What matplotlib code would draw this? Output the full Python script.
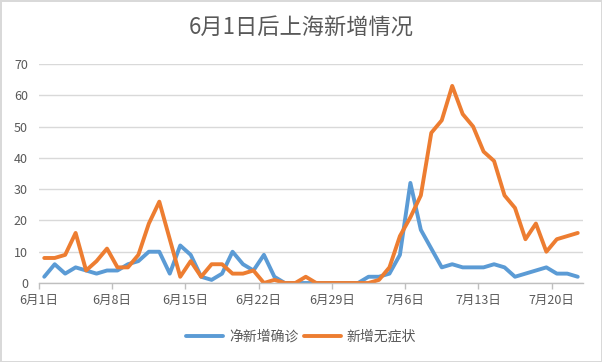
import matplotlib
matplotlib.use("Agg")
import matplotlib.pyplot as plt
import numpy as np

plt.rcParams['font.family'] = ['Noto Sans CJK SC', 'DejaVu Sans']

# 数据: 6月1日 ~ 7月22日, 每日一个点
days = ["6月%d日" % d for d in range(1, 31)] + ["7月%d日" % d for d in range(1, 23)]
confirmed = [2, 6, 3, 5, 4, 3, 4, 4, 6, 7,
             10, 10, 3, 12, 9, 2, 1, 3, 10, 6,
             4, 9, 2, 0, 0, 0, 0, 0, 0, 0,
             0, 2, 2, 3, 9, 32, 17, 11, 5, 6,
             5, 5, 5, 6, 5, 2, 3, 4, 5, 3,
             3, 2]
asymptomatic = [8, 8, 9, 16, 4, 7, 11, 5, 5, 9,
                19, 26, 14, 2, 7, 2, 6, 6, 3, 3,
                4, 0, 1, 0, 0, 2, 0, 0, 0, 0,
                0, 0, 1, 5, 15, 21, 28, 48, 52, 63,
                54, 50, 42, 39, 28, 24, 14, 19, 10, 14,
                15, 16]
tick_labels = ["6月1日", "6月8日", "6月15日", "6月22日", "6月29日", "7月6日", "7月13日", "7月20日"]
y_ticks = [0, 10, 20, 30, 40, 50, 60, 70]

blue = "#5B9BD5"
orange = "#ED7D31"
grey_text = "#595959"

fig = plt.figure(figsize=(6.02, 3.62), dpi=100)
fig.patch.set_facecolor("white")
fig.patch.set_edgecolor("#D9D9D9")
fig.patch.set_linewidth(1.0)
ax = fig.add_axes([0.0648, 0.2182, 0.9036, 0.605])

x = np.arange(len(days))
ax.plot(x, confirmed, color=blue, lw=2.8, solid_joinstyle="round", solid_capstyle="round", label="净新增确诊")
ax.plot(x, asymptomatic, color=orange, lw=2.8, solid_joinstyle="round", solid_capstyle="round", label="新增无症状")

ax.set_xlim(-0.5, len(days) - 0.5)
ax.set_ylim(0, 70)
ax.set_yticks(y_ticks)
ax.yaxis.grid(True, color="#D9D9D9", lw=1.0)
ax.set_axisbelow(True)

tick_pos = [days.index(t) - 0.5 for t in tick_labels]
ax.set_xticks(tick_pos)
ax.set_xticklabels(tick_labels)

for s in ["top", "right", "left"]:
    ax.spines[s].set_visible(False)
ax.spines["bottom"].set_color("#BFBFBF")
ax.spines["bottom"].set_linewidth(1.0)
ax.tick_params(axis="y", length=0, pad=8, labelsize=9, labelcolor=grey_text)
ax.tick_params(axis="x", length=4, width=1.0, color="#BFBFBF", pad=4, labelsize=9, labelcolor=grey_text)

fig.text(0.5, 0.922, "6月1日后上海新增情况", ha="center", va="center", fontsize=16, color=grey_text)

fig.legend(loc="center", bbox_to_anchor=(0.5, 0.07), ncol=2, frameon=False,
           fontsize=10, labelcolor=grey_text, handlelength=2.7, handletextpad=0.4,
           columnspacing=0.4)

fig.savefig("out.png", dpi=100, facecolor=fig.get_facecolor(), edgecolor=fig.get_edgecolor())
